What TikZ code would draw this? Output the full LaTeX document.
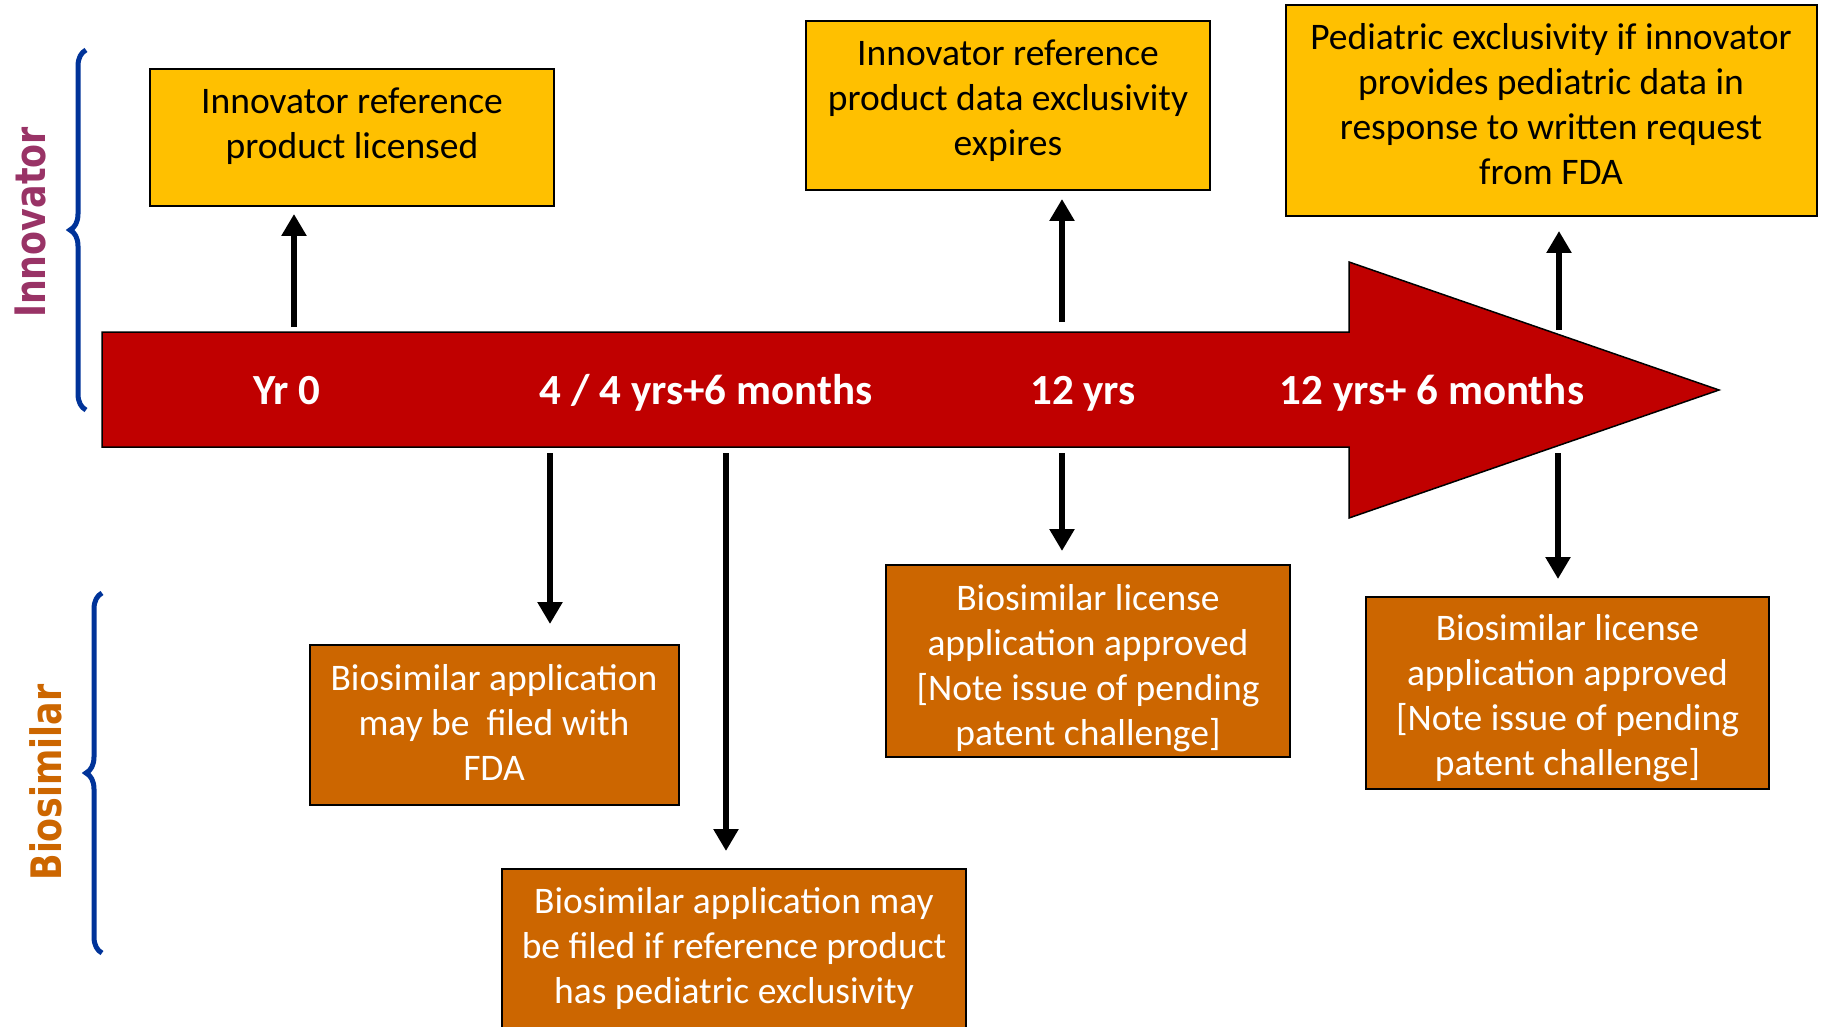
\documentclass[tikz,border=0pt]{standalone}
\usepackage{xcolor}
\usepackage{fontspec}
\setmainfont{Carlito}
\newfontfamily\sidefont[FakeStretch=0.83]{DejaVu Sans}
\usepackage{tikz}
\usetikzlibrary{arrows.meta,decorations.pathreplacing}
\definecolor{ygold}{HTML}{FFC000}
\definecolor{borange}{HTML}{CC6600}
\definecolor{tred}{HTML}{C00000}
\definecolor{bblue}{HTML}{003399}
\definecolor{innov}{HTML}{993366}
\tikzset{
	ybox/.style={draw=black,line width=2pt,fill=ygold,align=center,inner sep=0pt,text depth=0pt,font=\fontsize{37.5}{45}\selectfont},
	obox/.style={draw=black,line width=2pt,fill=borange,text=white,align=center,inner sep=0pt,text depth=0pt,font=\fontsize{37.5}{45}\selectfont},
	tlabel/.style={text=white,anchor=base,font=\fontsize{43}{50}\selectfont\bfseries},
	sidelabel/.style={rotate=90,font=\sidefont\bfseries\fontsize{42}{50}\selectfont},
	conn/.style={line width=6pt,-{Triangle[width=24pt,length=22pt]}},
	sidebrace/.style={draw=bblue,line width=5pt,decorate,decoration={brace,amplitude=16pt}}
}
\begin{document}
\begin{tikzpicture}[x=1pt,y=-1pt]
		\path[use as bounding box,clip] (0,0) rectangle (1824,1027);
		\draw[fill=tred,line width=1.5pt] (102,332) -- (1349,332) -- (1349,262) -- (1719,390) -- (1349,518) -- (1349,447) -- (102,447) -- cycle;
		\node[tlabel] (yr0) at (287,404) {Yr 0};
		\node[tlabel] (yr4) at (706,404) {4 / 4 yrs+6 months};
		\node[tlabel] (yr12) at (1083,404) {12 yrs};
		\node[tlabel] (yr12p) at (1432,404) {12 yrs+ 6 months};
		\node[ybox,minimum width=404pt,minimum height=137pt,text height=41.9pt] (y1) at (352,137.5) {Innovator reference\\product licensed};
		\node[ybox,minimum width=404pt,minimum height=169pt,text height=100.5pt] (y2) at (1008,105.5) {Innovator reference\\product data exclusivity\\expires};
		\node[ybox,minimum width=531pt,minimum height=211pt,text height=149pt] (y3) at (1551,110.5) {Pediatric exclusivity if innovator\\provides pediatric data in\\response to written request\\from FDA};
		\node[obox,minimum width=369pt,minimum height=160pt,text height=110pt] (o1) at (494,725) {Biosimilar application\\may be\ \ filed with\\FDA};
		\node[obox,minimum width=464pt,minimum height=161pt,text height=108pt] (o2) at (734,949.5) {Biosimilar application may\\be filed if reference product\\has pediatric exclusivity};
		\node[obox,minimum width=404pt,minimum height=192pt,text height=168pt] (o3) at (1088,661) {Biosimilar license\\application approved\\{[}Note issue of pending\\patent challenge{]}};
		\node[obox,minimum width=403pt,minimum height=192pt,text height=165.5pt] (o4) at (1567.5,693) {Biosimilar license\\application approved\\{[}Note issue of pending\\patent challenge{]}};
		\coordinate (u1) at (294,327);
		\coordinate (u2) at (1062,322);
		\coordinate (u3) at (1559,330);
		\coordinate (d1) at (550,453);
		\coordinate (d2) at (726,453);
		\coordinate (d3) at (1062,453);
		\coordinate (d4) at (1558,453);
		\draw[conn,shorten >=7pt] (u1) -- (u1 |- y1.south);
		\draw[conn,shorten >=8pt] (u2) -- (u2 |- y2.south);
		\draw[conn,shorten >=14pt] (u3) -- (u3 |- y3.south);
		\draw[conn,shorten >=20pt] (d1) -- (d1 |- o1.north);
		\draw[conn,shorten >=17pt] (d2) -- (d2 |- o2.north);
		\draw[conn,shorten >=13pt] (d3) -- (d3 |- o3.north);
		\draw[conn,shorten >=17pt] (d4) -- (d4 |- o4.north);
		\coordinate (ib1) at (86,410);
		\coordinate (ib2) at (86,50);
		\coordinate (bb1) at (102,953);
		\coordinate (bb2) at (102,593);
		\draw[sidebrace] (ib1) -- (ib2);
		\draw[sidebrace] (bb1) -- (bb2);
		\node[sidelabel,text=innov] (innov) at (30.6,222.5) {Innovator};
		\node[sidelabel,text=borange] (biosim) at (46,782.5) {Biosimilar};
	\end{tikzpicture}
\end{document}
